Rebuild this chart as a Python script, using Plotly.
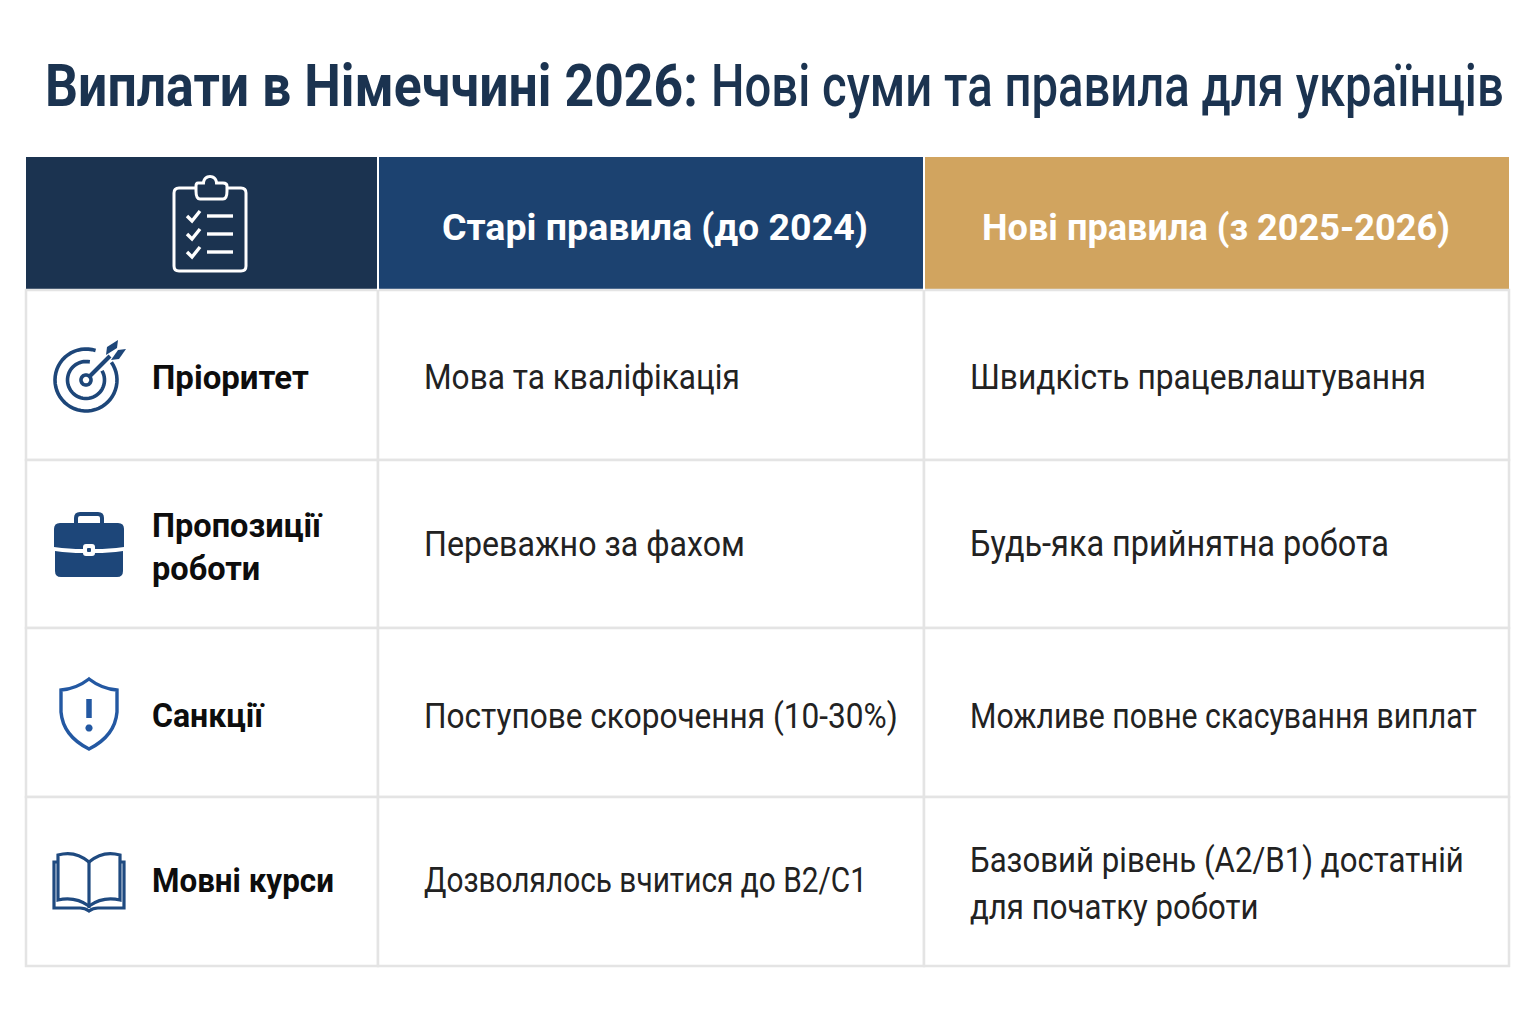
"""
Germany payments 2026: old vs new rules comparison table with drawn icons
"""
import json
import math

import plotly.graph_objects as go

title_bold = "Виплати в Німеччині 2026:"
title_rest = "Нові суми та правила для українців"
headers = ["", "Старі правила (до 2024)", "Нові правила (з 2025-2026)"]
row_labels = ["Пріоритет", "Пропозиції<br>роботи", "Санкції", "Мовні курси"]
old_rules = [
    "Мова та кваліфікація",
    "Переважно за фахом",
    "Поступове скорочення (10-30%)",
    "Дозволялось вчитися до B2/C1",
]
new_rules = [
    "Швидкість працевлаштування",
    "Будь-яка прийнятна робота",
    "Можливе повне скасування виплат",
    "Базовий рівень (A2/B1) достатній<br>для початку роботи",
]

# page geometry, in pixels of the 1536x1024 picture
COL_EDGES = [26, 378, 924, 1509]
ROW_EDGES = [157, 290, 460, 628, 797, 966]
HEADER_COLORS = ["#1b3350", "#1c4270", "#d1a45f"]
GRID = "#e4e4e4"
NAVY = "#1d4679"
FONT = "Roboto"

# the lettering in the picture is narrower than Roboto, so each text gets squeezed
# to its measured width, same order as the annotations
HEADER_W = [426, 468]
LABEL_W = [157, 171, 113, 182]
OLD_W = [316, 321, 474, 443]
NEW_W = [456, 419, 507, 494]
TITLE_W = [653, 793]

# small vertical nudges per row, from comparing against the reference
LABEL_DY = [2, 3, 3, -1]
OLD_DY = [2, 0, 3, -2]
NEW_DY = [2, 0, 3, 2]


def arc(cx, cy, r, start, end, steps=48):
    """Polyline path for an arc, angles in degrees, clockwise on screen"""
    pts = []
    for i in range(steps + 1):
        a = math.radians(start + (end - start) * i / steps)
        pts.append(f"{cx + r * math.cos(a):.2f},{cy + r * math.sin(a):.2f}")
    return "M" + " L".join(pts)


def round_rect(x0, y0, x1, y1, r):
    return (f"M{x0 + r},{y0} L{x1 - r},{y0} Q{x1},{y0} {x1},{y0 + r} L{x1},{y1 - r} "
            f"Q{x1},{y1} {x1 - r},{y1} L{x0 + r},{y1} Q{x0},{y1} {x0},{y1 - r} "
            f"L{x0},{y0 + r} Q{x0},{y0} {x0 + r},{y0} Z")


def stroke(path, color, width=3.0, fill="rgba(0,0,0,0)"):
    return dict(type="path", path=path, xref="x", yref="y", layer="above",
                line=dict(color=color, width=width), fillcolor=fill)


def solid(path, color):
    return dict(type="path", path=path, xref="x", yref="y", layer="above",
                line=dict(width=0), fillcolor=color)


def clipboard_icon():
    c = "#ffffff"
    # board outline is broken by the clip at the top
    board = ("M195,188 L179,188 Q174,188 174,193 L174,266 Q174,271 179,271 L241,271 "
             "Q246,271 246,266 L246,193 Q246,188 241,188 L227,188")
    clip = ("M196,191 Q196,199 200,199 L223,199 Q227,199 227,191 L227,186 Q227,183 223,183 "
            "L217,183 " + arc(210, 183, 6.5, 0, -180, 16).replace("M", "L") + " L198,183 "
            "Q196,183 196,186 Z")
    shapes = [stroke(board, c, 3), stroke(clip, c, 3)]
    for y in (216, 234, 252):
        shapes.append(stroke(f"M187,{y} L192,{y + 5} L200,{y - 5}", c, 3.4))
        shapes.append(stroke(f"M207,{y} L233,{y}", c, 3.4))
    return shapes


def target_icon():
    cx, cy = 86, 380
    shapes = [
        stroke(arc(cx, cy, 31, -35, 288), NAVY, 3.6),
        stroke(arc(cx, cy, 18.5, -30, 282), NAVY, 3.6),
        stroke(arc(cx, cy, 5, 0, 360), NAVY, 3.6),
        stroke(f"M{cx + 3},{cy - 3} L110,356", NAVY, 4),
        solid("M106,355 L107,347 L118,340 L117,348 Z", NAVY),
        solid("M111,360 L119,359 L126,349 L118,350 Z", NAVY),
    ]
    return shapes


def briefcase_icon():
    return [
        stroke(round_rect(76, 514, 102, 530, 4), NAVY, 4),
        solid("M54,529 Q54,523 60,523 L118,523 Q124,523 124,529 L124,547 "
              "Q108,549 96,549 L82,549 Q70,549 54,547 Z", NAVY),
        solid("M55,551 Q70,553 82,553 L96,553 Q108,553 123,551 L123,571 "
              "Q123,577 117,577 L61,577 Q55,577 55,571 Z", NAVY),
        solid(round_rect(83, 544, 95, 556, 3), "#ffffff"),
        solid(round_rect(87, 548, 91, 552, 1), NAVY),
    ]


def shield_icon():
    c = "#2358a2"
    outline = ("M89,679 Q76,689 61,690 L61,712 Q63,736 89,749 Q115,736 117,712 "
               "L117,690 Q102,689 89,679 Z")
    return [
        stroke(outline, c, 3.4),
        stroke("M89,699 L89,718", c, 5.5),
        solid(arc(89, 728, 3.6, 0, 360, 20) + " Z", c),
    ]


def book_icon():
    c = "#1f4a80"
    left = "M89,862 Q75,850 58,855 L58,900 Q75,896 89,906"
    right = "M89,862 Q103,850 120,855 L120,900 Q103,896 89,906"
    cover = "M58,862 L54,862 L54,908 L80,908 Q85,908 89,911 Q93,908 98,908 L124,908 L124,862 L120,862"
    return [
        stroke(left, c, 3.2),
        stroke(right, c, 3.2),
        stroke(cover, c, 3.2),
        stroke("M89,862 L89,908", c, 3.2),
    ]


fig = go.Figure()

shapes = []
for col, color in enumerate(HEADER_COLORS):
    shapes.append(dict(type="rect", xref="x", yref="y", layer="below",
                       x0=COL_EDGES[col], x1=COL_EDGES[col + 1],
                       y0=ROW_EDGES[0], y1=ROW_EDGES[1],
                       fillcolor=color, line=dict(width=0)))
for col in range(3):
    for row in range(1, 5):
        shapes.append(dict(type="rect", xref="x", yref="y", layer="below",
                           x0=COL_EDGES[col], x1=COL_EDGES[col + 1],
                           y0=ROW_EDGES[row], y1=ROW_EDGES[row + 1],
                           fillcolor="#ffffff", line=dict(color=GRID, width=2.5)))
# white hairlines between the header cells
for x in COL_EDGES[1:3]:
    shapes.append(dict(type="line", xref="x", yref="y", x0=x, x1=x,
                       y0=ROW_EDGES[0], y1=ROW_EDGES[1],
                       line=dict(color="#ffffff", width=2)))
shapes += clipboard_icon() + target_icon() + briefcase_icon() + shield_icon() + book_icon()

annotations = []
widths = []


def add_text(x, y, text, size, color, width, weight=400):
    annotations.append(dict(x=x, y=y, xref="x", yref="y", text=text, showarrow=False,
                            xanchor="left", yanchor="middle", align="left",
                            font=dict(family=FONT, size=size, color=color, weight=weight)))
    widths.append(width)


header_mid = (ROW_EDGES[0] + ROW_EDGES[1]) / 2
add_text(440, header_mid + 4, headers[1], 37, "#ffffff", HEADER_W[0], 700)
add_text(980, header_mid + 4, headers[2], 37, "#ffffff", HEADER_W[1], 700)

for i in range(4):
    mid = (ROW_EDGES[i + 1] + ROW_EDGES[i + 2]) / 2
    add_text(150, mid + LABEL_DY[i], row_labels[i], 33, "#0d0d0d", LABEL_W[i], 700)
    add_text(422, mid + OLD_DY[i], old_rules[i], 36, "#222222", OLD_W[i])
    add_text(968, mid + NEW_DY[i], new_rules[i], 36, "#222222", NEW_W[i])

add_text(43, 85, title_bold, 60, "#1b3350", TITLE_W[0], 700)
add_text(709, 85, title_rest, 60, "#1b3350", TITLE_W[1], 500)

fig.update_layout(
    width=1536,
    height=1024,
    margin=dict(l=0, r=0, t=0, b=0),
    paper_bgcolor="#ffffff",
    plot_bgcolor="#ffffff",
    showlegend=False,
    shapes=shapes,
    annotations=annotations,
)
fig.update_xaxes(range=[0, 1536], visible=False, fixedrange=True)
fig.update_yaxes(range=[1024, 0], visible=False, fixedrange=True)

# drop the page margin, then squeeze each annotation about its left edge
squeeze = """
document.body.style.margin = '0';
var widths = %s;
document.querySelectorAll('.annotation-text').forEach(function (el, i) {
    var b = el.getBBox();
    var s = widths[i] / b.width;
    var old = el.getAttribute('transform') || '';
    el.setAttribute('transform', old + ' translate(' + b.x + ',0) scale(' + s + ',1) translate(' + (-b.x) + ',0)');
});
""" % json.dumps(widths)

fig.write_html("out.html", config={"displayModeBar": False}, post_script=squeeze)
